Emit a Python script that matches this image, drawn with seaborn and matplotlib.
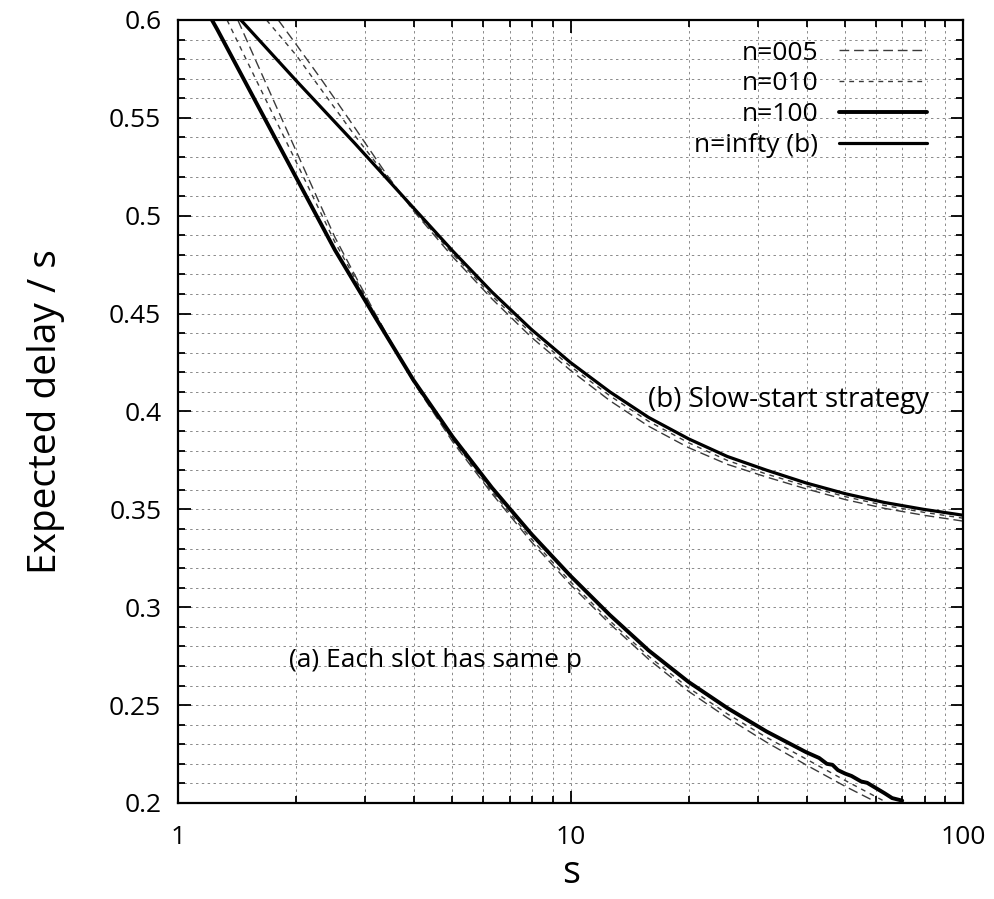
import matplotlib
matplotlib.use("Agg")
import matplotlib.pyplot as plt
from matplotlib.lines import Line2D
from matplotlib.ticker import FixedLocator, FixedFormatter, MultipleLocator, LogLocator, NullFormatter
import numpy as np
import pandas as pd
import seaborn as sns

# ---------------- data ----------------
# (a) Each slot has same p
a_n100_x = [1.22, 1.26, 1.58, 2.0, 2.51, 3.16, 3.98, 5.01, 6.31, 7.94, 10, 12.6, 15.8, 20, 25.1, 31.6, 39.8,
            43, 45, 46.5, 48, 50.1, 52, 55, 57, 63.1, 66, 70]
a_n100_y = [0.600, 0.595, 0.558, 0.5195, 0.4825, 0.449, 0.416, 0.387, 0.361, 0.3375, 0.316, 0.296, 0.278,
            0.2618, 0.2485, 0.2365, 0.2260, 0.2230, 0.2200, 0.2195, 0.2168, 0.2150, 0.2138, 0.2110, 0.2103,
            0.2050, 0.2025, 0.2012]

a_n005_x = [1.42, 1.58, 2.0, 2.51, 3.16, 3.98, 5.01, 6.31, 7.94, 10, 12.6, 15.8, 20, 25.1, 31.6, 39.8, 50.1, 60.3]
a_n005_y = [0.600, 0.579, 0.533, 0.489, 0.451, 0.415, 0.3845, 0.358, 0.3335, 0.3115, 0.2915, 0.2735, 0.2570,
            0.2435, 0.2310, 0.2195, 0.2085, 0.2003]

a_n010_x = [1.333, 1.58, 2.0, 2.51, 3.16, 3.98, 5.01, 6.31, 7.94, 10, 12.6, 15.8, 20, 25.1, 31.6, 39.8, 50.1, 64]
a_n010_y = [0.600, 0.5695, 0.5275, 0.4865, 0.4505, 0.4155, 0.3855, 0.359, 0.335, 0.313, 0.293, 0.275, 0.2588,
            0.2455, 0.2335, 0.2225, 0.2115, 0.2002]

# (b) Slow-start strategy
b_inf_x = [1.445, 2.0, 2.82, 3.98, 5.01, 6.31, 7.94, 10, 12.6, 15.8, 20, 25.1, 31.6, 39.8, 50.1, 63.1, 79.4, 100]
b_inf_y = [0.600, 0.569, 0.537, 0.504, 0.482, 0.461, 0.442, 0.425, 0.410, 0.397, 0.386, 0.377, 0.370, 0.3635,
           0.358, 0.3535, 0.350, 0.347]

b_n005_x = [1.80, 2.0, 2.33, 2.82, 3.4, 3.98, 5.01, 6.31, 7.94, 10, 12.6, 15.8, 20, 25.1, 31.6, 39.8, 50.1, 63.1, 79.4, 100]
b_n005_y = [0.600, 0.5875, 0.569, 0.545, 0.521, 0.5025, 0.479, 0.4575, 0.438, 0.421, 0.4055, 0.3925, 0.3815,
            0.373, 0.3665, 0.3605, 0.355, 0.3505, 0.347, 0.344]

b_n010_x = [1.68, 2.0, 2.23, 2.82, 3.4, 3.98, 5.01, 6.31, 7.94, 10, 12.6, 15.8, 20, 25.1, 31.6, 39.8, 50.1, 63.1, 79.4, 100]
b_n010_y = [0.600, 0.582, 0.569, 0.541, 0.520, 0.503, 0.4805, 0.459, 0.440, 0.423, 0.408, 0.395, 0.384, 0.375,
            0.368, 0.362, 0.3565, 0.352, 0.3485, 0.3455]

legend_labels = ["n=005", "n=010", "n=100", "n=infty (b)"]
y_ticks = [0.2, 0.25, 0.3, 0.35, 0.4, 0.45, 0.5, 0.55, 0.6]
y_tick_labels = ["0.2", "0.25", "0.3", "0.35", "0.4", "0.45", "0.5", "0.55", "0.6"]
x_ticks = [1, 10, 100]
x_tick_labels = ["1", "10", "100"]

# ---------------- styling ----------------
sns.set_style("ticks")
plt.rcParams['font.family'] = ['Open Sans', 'DejaVu Sans']
plt.rcParams['text.color'] = 'black'
plt.rcParams['axes.labelcolor'] = 'black'
plt.rcParams['xtick.color'] = 'black'
plt.rcParams['ytick.color'] = 'black'

fig = plt.figure(figsize=(9.94, 8.99), dpi=100)
ax = fig.add_axes([0.1791, 0.1068, 0.7897, 0.8710])

styles = {
    "n005": dict(color="#3a3a3a", linewidth=1.0, linestyle=(0, (7, 3.5))),
    "n010": dict(color="#3a3a3a", linewidth=1.0, linestyle=(0, (3.5, 3.5))),
    "n100": dict(color="black", linewidth=2.8, linestyle="-"),
    "ninf": dict(color="black", linewidth=2.3, linestyle="-"),
}

curves = [
    (a_n005_x, a_n005_y, "n005"),
    (a_n010_x, a_n010_y, "n010"),
    (b_n005_x, b_n005_y, "n005"),
    (b_n010_x, b_n010_y, "n010"),
    (a_n100_x, a_n100_y, "n100"),
    (b_inf_x, b_inf_y, "ninf"),
]
for xs, ys, key in curves:
    df = pd.DataFrame({"s": xs, "d": ys})
    sns.lineplot(data=df, x="s", y="d", ax=ax, estimator=None, sort=False, **styles[key])

ax.set_xscale("log")
ax.set_xlim(1, 100)
ax.set_ylim(0.2, 0.6)

ax.xaxis.set_major_locator(FixedLocator(x_ticks))
ax.xaxis.set_major_formatter(FixedFormatter(x_tick_labels))
ax.xaxis.set_minor_locator(LogLocator(base=10, subs=np.arange(2, 10)))
ax.xaxis.set_minor_formatter(NullFormatter())
ax.yaxis.set_major_locator(FixedLocator(y_ticks))
ax.yaxis.set_major_formatter(FixedFormatter(y_tick_labels))
ax.yaxis.set_minor_locator(MultipleLocator(0.01))

ax.grid(which="both", color="#8a8a8a", linestyle=(0, (2.5, 3.5)), linewidth=0.7)
ax.set_axisbelow(True)

ax.tick_params(which="both", direction="in", top=True, right=True, width=1.3, colors="black")
ax.tick_params(which="major", length=9, labelsize=19)
ax.tick_params(axis="y", which="major", pad=12)
ax.tick_params(axis="x", which="major", pad=16)
ax.tick_params(which="minor", length=5)
for sp in ax.spines.values():
    sp.set_linewidth(1.6)
    sp.set_color("black")

ax.set_xlabel("s", fontsize=27, labelpad=3)
ax.set_ylabel("Expected delay / s", fontsize=28, labelpad=32)

ax.text(15.8, 0.406, "(b) Slow-start strategy", fontsize=20, ha="left", va="center")
ax.text(1.918, 0.273, "(a) Each slot has same p", fontsize=19, ha="left", va="center")

handles = [Line2D([], [], **styles[k]) for k in ["n005", "n010", "n100", "ninf"]]
ax.legend(handles, legend_labels, loc="upper right", bbox_to_anchor=(0.967, 0.987),
          borderaxespad=0, frameon=False, markerfirst=False, fontsize=19,
          handlelength=3.3, handletextpad=0.8, labelspacing=0.22)

fig.savefig("out.png", dpi=100, facecolor="white")
